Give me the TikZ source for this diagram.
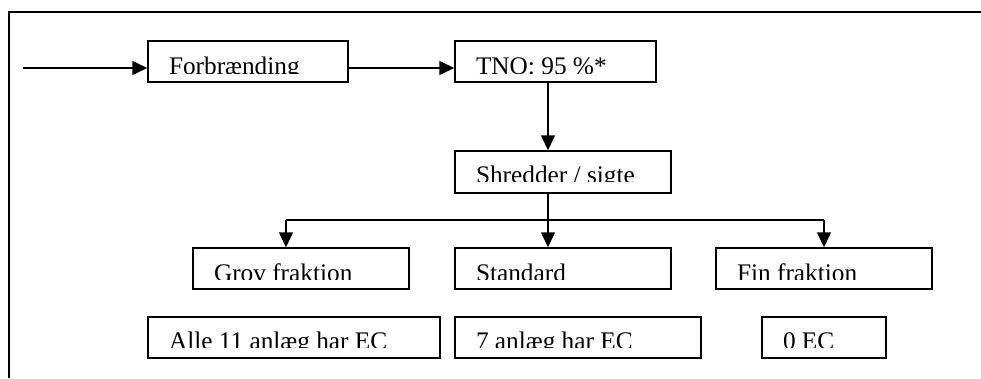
\documentclass[tikz,border=0pt]{standalone}
\usepackage{fontspec}
\setmainfont{Liberation Serif}
\usetikzlibrary{arrows.meta,calc}
\newcommand{\boxtext}[4]{%
  \begin{scope}
    \clip ($(#1.south west)+(0,-#2)$) rectangle (#1.north east);
    \node[txt] (#3) at ($(#1.south west)+(21,-#2+1.5)$) {#4};
  \end{scope}}
\begin{document}
\begin{tikzpicture}[x=1bp,y=-1bp,
  line width=1.5bp,
  box/.style={draw, rectangle, inner sep=0pt, line width=1.5bp},
  txt/.style={anchor=base west, inner sep=0pt, font=\fontsize{25.3bp}{30bp}\selectfont},
  arr/.style={-{Triangle[length=15bp,width=14bp]}}]
\useasboundingbox (0,0) rectangle (981,378);
% outer frame (cut by the page edges)
\coordinate (fbl) at (9,378);
\coordinate (ftl) at (9,12);
\coordinate (ftr) at (981,12);
\draw (fbl) -- (ftl) -- (ftr);
% boxes
\node[box, minimum width=200bp, minimum height=41bp] (forb) at (248,61.5) {};
\node[box, minimum width=201bp, minimum height=41bp] (tno) at (555.5,61.5) {};
\node[box, minimum width=216bp, minimum height=42bp] (shred) at (563,172) {};
\node[box, minimum width=216bp, minimum height=41bp] (grov) at (301,268.5) {};
\node[box, minimum width=216bp, minimum height=41bp] (std) at (563,268.5) {};
\node[box, minimum width=216bp, minimum height=41bp] (fin) at (824,268.5) {};
\node[box, minimum width=292bp, minimum height=41bp] (alle) at (294,337.5) {};
\node[box, minimum width=246bp, minimum height=41bp] (seven) at (578,337.5) {};
\node[box, minimum width=124bp, minimum height=41bp] (zero) at (824,337.5) {};
% texts (clipped as in the original text boxes)
\boxtext{forb}{9.5}{forbt}{Forbrænding}
\boxtext{tno}{9.5}{tnot}{TNO: 95 \%*}
\boxtext{shred}{12}{shredt}{Shredder / sigte}
\boxtext{grov}{10}{grovt}{Grov fraktion}
\boxtext{std}{10}{stdt}{Standard}
\boxtext{fin}{10}{fint}{Fin fraktion}
\boxtext{alle}{11}{allet}{Alle 11 anlæg har EC}
\boxtext{seven}{11}{sevent}{7 anlæg har EC}
\boxtext{zero}{11}{zerot}{0 EC}
% connectors
\coordinate (in) at (23,68);
\coordinate (c) at (548,0);
\coordinate (j) at (548,220);
\coordinate (bl) at (286,220);
\coordinate (br) at (824,220);
\draw[arr] (in) -- (forb.west |- in);
\draw[arr] (forb.east |- in) -- (tno.west |- in);
\draw[arr] (tno.south -| c) -- (shred.north -| c);
\draw[arr] (shred.south -| j) -- (std.north -| j);
\draw (bl) -- (br);
\draw[arr] (bl) -- (grov.north -| bl);
\draw[arr] (br) -- (fin.north -| br);
\end{tikzpicture}
\end{document}
